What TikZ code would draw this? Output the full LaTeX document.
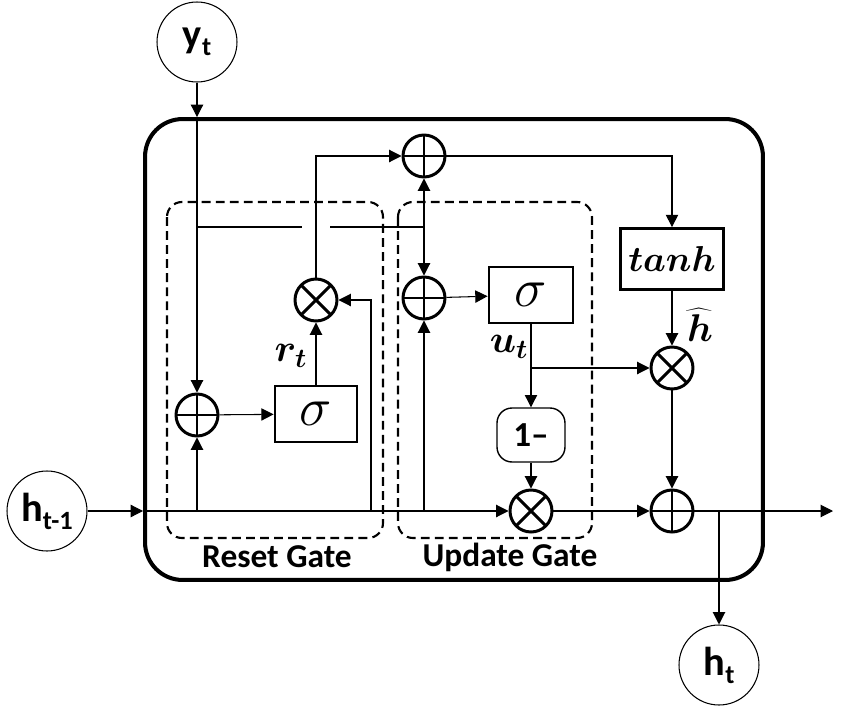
\documentclass[tikz,border=0pt]{standalone}
\usepackage{fix-cm}
\usepackage{bm}
\usepackage{fontspec}
\setmainfont{Carlito}
\usetikzlibrary{arrows.meta}

\tikzset{
  wire/.style={line width=0.6pt},
  conn/.style={wire, -{Triangle[length=7pt,width=7pt]}},
  opnode/.style={circle, draw, line width=1.7pt, minimum size=0.84cm, inner sep=0pt},
  addop/.style={opnode, path picture={\draw[line width=1.7pt]
      (path picture bounding box.north) -- (path picture bounding box.south)
      (path picture bounding box.west) -- (path picture bounding box.east);}},
  mulop/.style={opnode, path picture={\draw[line width=1.7pt]
      (path picture bounding box.north west) -- (path picture bounding box.south east)
      (path picture bounding box.north east) -- (path picture bounding box.south west);}},
  actbox/.style={draw, line width=1.6pt, inner sep=0pt},
  ionode/.style={circle, draw, line width=0.6pt, minimum size=1.6cm, inner sep=0pt},
  gatebox/.style={line width=1.2pt, rounded corners=0.3cm, dash pattern=on 5pt off 3pt},
  gatelbl/.style={font=\fontsize{19}{19}\selectfont\bfseries},
  mathtag/.style={inner sep=0pt},
}

\newcommand{\iolabel}[2]{\fontsize{23}{23}\selectfont\bfseries #1\raisebox{-0.4ex}{\fontsize{15}{15}\selectfont #2}}
\newcommand{\mathlbl}[1]{\fontsize{22}{22}\selectfont$#1$}

\begin{document}
\begin{tikzpicture}[x=0.02cm, y=-0.02cm]
  \useasboundingbox (0,0) rectangle (850,714);

  % cell frame and gate frames
  \node[draw, line width=2.3pt, rounded corners=0.75cm, minimum width=12.36cm,
        minimum height=9.22cm] (cell) at (454,349.5) {};
  \draw[gatebox] (167,202) rectangle (383,538);
  \draw[gatebox] (398,202) rectangle (592,538);
  \node[gatelbl] (rlbl) at (277,557) {Reset Gate};
  \node[gatelbl] (ulbl) at (510,557) {Update Gate};

  % inputs / output
  \node[ionode] (yt)  at (197,42)  {\iolabel{y}{t}};
  \node[ionode] (hin) at (47,511)  {\iolabel{h}{t-1}};
  \node[ionode] (ht)  at (719,665) {\iolabel{h}{t}};

  % operators
  \node[addop] (rsum) at (197,415) {};   % reset gate sum
  \node[mulop] (rmul) at (316,300) {};   % r_t * h
  \node[addop] (tsum) at (424,156) {};   % candidate sum
  \node[addop] (usum) at (424,298) {};   % update gate sum
  \node[mulop] (hmul) at (672,368) {};   % u_t * h-hat
  \node[mulop] (umul) at (531,511) {};   % (1-u_t) * h
  \node[addop] (fsum) at (672,511) {};   % output sum

  % boxes
  \node[actbox, minimum width=1.64cm, minimum height=1.12cm] (rsig) at (316,414)
       {\fontsize{31}{31}\selectfont$\sigma$};
  \node[actbox, minimum width=1.68cm, minimum height=1.12cm] (usig) at (531,295)
       {\fontsize{31}{31}\selectfont$\sigma$};
  \node[actbox, minimum width=2.06cm, minimum height=1.22cm] (tanh) at (672,259)
       {\fontsize{20.5}{20.5}\selectfont$\bm{tanh}$};
  \node[draw, line width=0.8pt, rounded corners=0.3cm, minimum width=1.36cm,
        minimum height=1.08cm] (onem) at (531,435)
       {\fontsize{20}{20}\selectfont\bfseries 1\textendash};

  % labels
  \node[mathtag] (rt)   at (291,356) {\mathlbl{\bm{r_t}}};
  \node[mathtag] (ut)   at (509,347) {\mathlbl{\bm{u_t}}};
  \node[mathtag] (hhat) at (700,325) {\mathlbl{\widehat{\bm{h}}}};

  % helper points
  \coordinate (ytop)  at (yt |- cell.north);
  \coordinate (xl)    at (197,227);
  \coordinate (gapl)  at (302,227);
  \coordinate (gapr)  at (330,227);
  \coordinate (xs)    at (424,227);
  \coordinate (hleft) at (cell.west |- hin);
  \coordinate (hb1)   at (197,511);
  \coordinate (hb2)   at (371,511);
  \coordinate (hb3)   at (424,511);
  \coordinate (ub)    at (531,368);
  \coordinate (hb4)   at (719,511);
  \coordinate (hout)  at (833,511);

  % y_t path
  \draw[conn] (yt) -- (ytop);
  \draw[conn] (ytop) -- (rsum);
  \draw[wire] (xl) -- (gapl);
  \draw[wire] (gapr) -- (xs);
  \draw[conn] (xs) -- (tsum);
  \draw[conn] (xs) -- (usum);

  % h_{t-1} path
  \draw[conn] (hin) -- (hleft);
  \draw[conn] (hleft) -- (umul);
  \draw[conn] (hb1) -- (rsum);
  \draw[conn] (hb2) |- (rmul);
  \draw[conn] (hb3) -- (usum);

  % reset gate
  \draw[conn] (rsum) -- (rsig);
  \draw[conn] (rsig) -- (rmul);
  \draw[conn] (rmul) |- (tsum);

  % candidate
  \draw[conn] (tsum) -| (tanh);
  \draw[conn] (tanh) -- (hmul);

  % update gate
  \draw[conn] (usum) -- (usig);
  \draw[conn] (usig) -- (onem);
  \draw[conn] (ub) -- (hmul);
  \draw[conn] (onem) -- (umul);

  % output
  \draw[conn] (umul) -- (fsum);
  \draw[conn] (hmul) -- (fsum);
  \draw[conn] (fsum) -- (hout);
  \draw[conn] (hb4) -- (ht);
\end{tikzpicture}
\end{document}
